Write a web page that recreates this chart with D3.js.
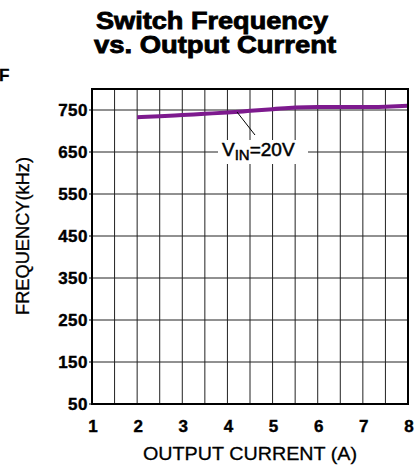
<!DOCTYPE html>
<html>
<head>
<meta charset="utf-8">
<script src="https://cdn.jsdelivr.net/npm/d3@7"></script>
<style>
  html, body { margin: 0; padding: 0; background: #fff; }
  svg { display: block; font-family: "Liberation Sans", Arial, sans-serif; }
</style>
</head>
<body>
<div id="chart"></div>
<script>
// output current (A) vs switch frequency (kHz), VIN = 20V
const current = [2, 2.5, 3, 3.5, 4, 4.5, 5, 5.5, 6, 6.5, 7, 7.5, 8];
const frequency = [733, 735, 738, 741, 744, 748, 752, 756, 757, 757, 757, 758, 760];

const xTicks = [1, 2, 3, 4, 5, 6, 7, 8];
const xGrid = [1.5, 2, 2.5, 3, 3.5, 4, 4.5, 5, 5.5, 6, 6.5, 7, 7.5];
const yTicks = [50, 150, 250, 350, 450, 550, 650, 750];

const width = 414, height = 466;
const margin = {top: 89, right: 6, bottom: 62, left: 92};

const svg = d3.select('#chart').append('svg')
    .attr('width', width)
    .attr('height', height);

const x = d3.scaleLinear().domain([1, 8]).range([margin.left, width - margin.right]);
const y = d3.scaleLinear().domain([50, 800]).range([height - margin.bottom, margin.top]);

// title, heavy and tight like the original
svg.append('text')
    .attr('x', 212).attr('y', 29)
    .attr('text-anchor', 'middle')
    .attr('font-size', 23).attr('font-weight', 'bold')
    .attr('stroke', '#000').attr('stroke-width', 0.8)
    .attr('textLength', 232).attr('lengthAdjust', 'spacingAndGlyphs')
    .text('Switch Frequency');
svg.append('text')
    .attr('x', 215).attr('y', 53)
    .attr('text-anchor', 'middle')
    .attr('font-size', 23).attr('font-weight', 'bold')
    .attr('stroke', '#000').attr('stroke-width', 0.8)
    .attr('textLength', 242).attr('lengthAdjust', 'spacingAndGlyphs')
    .text('vs. Output Current');

// stray letter at left edge
svg.append('text')
    .attr('x', -1).attr('y', 81)
    .attr('font-size', 17).attr('font-weight', 'bold')
    .attr('stroke', '#000').attr('stroke-width', 0.4)
    .text('F');

// grid
const grid = svg.append('g').attr('stroke', '#222').attr('stroke-width', 1);
grid.selectAll('line.v').data(xGrid).join('line')
    .attr('class', 'v')
    .attr('x1', d => x(d)).attr('x2', d => x(d))
    .attr('y1', y(800)).attr('y2', y(50));
grid.selectAll('line.h').data(yTicks.slice(1)).join('line')
    .attr('class', 'h')
    .attr('x1', x(1)).attr('x2', x(8))
    .attr('y1', d => y(d)).attr('y2', d => y(d));

// y ticks
svg.append('g').selectAll('line').data(yTicks).join('line')
    .attr('x1', x(1) - 3).attr('x2', x(1))
    .attr('y1', d => y(d)).attr('y2', d => y(d))
    .attr('stroke', '#000').attr('stroke-width', 1);

svg.append('g').selectAll('text').data(yTicks).join('text')
    .attr('x', x(1) - 4)
    .attr('y', d => y(d) + 6)
    .attr('text-anchor', 'end')
    .attr('font-size', 17).attr('font-weight', 'bold')
    .attr('stroke', '#000').attr('stroke-width', 0.4)
    .attr('letter-spacing', 0.5)
    .text(d => d);

svg.append('g').selectAll('text').data(xTicks).join('text')
    .attr('x', d => x(d) + 1)
    .attr('y', 432)
    .attr('text-anchor', 'middle')
    .attr('font-size', 17).attr('font-weight', 'bold')
    .attr('stroke', '#000').attr('stroke-width', 0.4)
    .text(d => d);

// axis titles
svg.append('text')
    .attr('transform', 'translate(29,236) rotate(-90)')
    .attr('text-anchor', 'middle')
    .attr('font-size', 18)
    .attr('stroke', '#000').attr('stroke-width', 0.3)
    .attr('textLength', 158).attr('lengthAdjust', 'spacingAndGlyphs')
    .text('FREQUENCY(kHz)');
svg.append('text')
    .attr('x', 250).attr('y', 460)
    .attr('text-anchor', 'middle')
    .attr('font-size', 19)
    .attr('stroke', '#000').attr('stroke-width', 0.3)
    .attr('textLength', 214).attr('lengthAdjust', 'spacingAndGlyphs')
    .text('OUTPUT CURRENT (A)');

// annotation background
svg.append('rect')
    .attr('x', 218).attr('y', 140)
    .attr('width', 90).attr('height', 24)
    .attr('fill', '#fff');

// data line
const line = d3.line()
    .x((d, i) => x(current[i]))
    .y(d => y(d))
    .curve(d3.curveMonotoneX);

svg.append('path')
    .datum(frequency)
    .attr('d', line)
    .attr('fill', 'none')
    .attr('stroke', '#7d1a8e')
    .attr('stroke-width', 4);

// annotation leader and label
svg.append('line')
    .attr('x1', 237).attr('y1', 112)
    .attr('x2', 255).attr('y2', 135)
    .attr('stroke', '#000').attr('stroke-width', 1);

const lbl = svg.append('text')
    .attr('x', 222).attr('y', 156)
    .attr('font-size', 19)
    .attr('stroke', '#000').attr('stroke-width', 0.5);
lbl.append('tspan').text('V');
lbl.append('tspan').attr('font-size', 15).attr('dy', 4).text('IN');
lbl.append('tspan').attr('dy', -4).text('=20V');

// plot border
svg.append('rect')
    .attr('x', x(1)).attr('y', y(800))
    .attr('width', x(8) - x(1)).attr('height', y(50) - y(800))
    .attr('fill', 'none')
    .attr('stroke', '#000').attr('stroke-width', 2);
</script>
</body>
</html>
